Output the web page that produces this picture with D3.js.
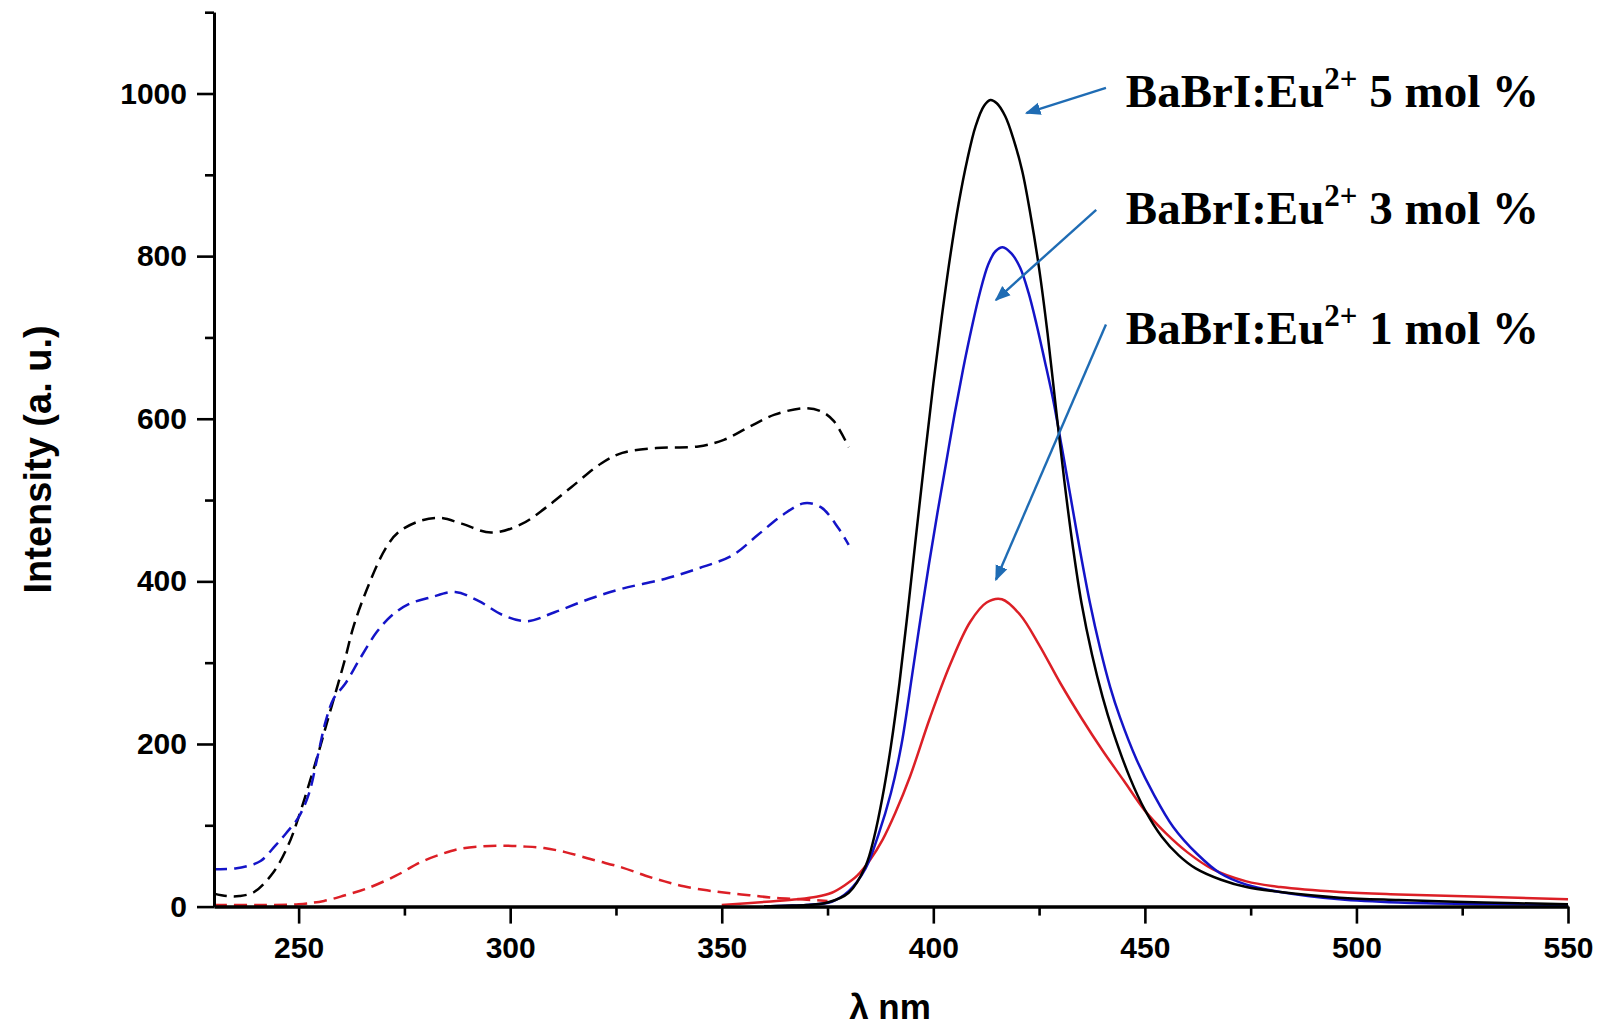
<!DOCTYPE html>
<html>
<head>
<meta charset="utf-8">
<script src="https://cdn.jsdelivr.net/npm/d3@7"></script>
<style>
  html, body { margin: 0; padding: 0; background: #fff; }
  svg { display: block; }
</style>
</head>
<body>
<svg id="chart" width="1599" height="1027"></svg>
<script>
// ---------- DATA ----------
const wavelengthDomain = [230, 550];
const intensityDomain = [0, 1100];
const xMajorTicks = [250, 300, 350, 400, 450, 500, 550];
const xMinorTicks = [275, 325, 375, 425, 475, 525];
const yMajorTicks = [0, 200, 400, 600, 800, 1000];
const yMinorTicks = [100, 300, 500, 700, 900, 1100];
const xAxisTitle = "λ nm";
const yAxisTitle = "Intensity (a. u.)";

// excitation spectra (dashed)
const exc5 = [[230,16],[233,13],[236,13],[239.5,18],[244,42],[247.5,75],[250,110],[253,160],[255,195],[257,232],[259,268],[261,305],[263,345],[266.5,395],[270.5,440],[273.5,460],[278.5,474],[283.5,478],[288.5,471],[295.5,460],[302.5,470],[308.5,491],[314.5,516],[321.5,545],[326.5,558],[334.5,564],[344.5,566],[350.5,574],[356.5,590],[362.5,605],[369.5,613],[373.5,609],[376.5,597],[380,565]];
const exc3 = [[230,46],[235,47],[238,50],[241,56],[244.5,75],[247,90],[250,110],[252.5,140],[254.5,185],[256.5,230],[258.3,256],[261,274],[264.5,305],[268.5,338],[272,358],[276,372],[281,380],[287,387],[292.5,376],[298.5,358],[304,351],[310.5,362],[318.5,378],[326.5,391],[336.5,403],[344.5,416],[352.5,432],[358.5,457],[364.5,482],[369.5,496],[373.5,491],[377.5,466],[380,445]];
const exc1 = [[230,2],[240,2],[250,3],[256,7],[261,14],[266,22],[273,38],[279,55],[284,65],[288,71],[293,74],[298,75],[303,74],[308,72],[313,67],[320,57],[326.5,48],[332,38],[336.5,31],[341,25],[346.5,20],[351,17],[356.5,14],[362,11],[368.5,9],[375,7]];

// emission spectra (solid)
const em5 = [[360,0],[365,1],[370,2],[375,5],[380,17],[384,50],[386,85],[388,135],[390,198],[392,275],[394,365],[396,460],[398,553],[400,643],[402,725],[404,800],[406,865],[408,918],[410,960],[412,985],[413.5,992],[415,988],[417,972],[419,943],[421,905],[423,850],[425,785],[427,705],[429,612],[431,522],[433,442],[435,374],[437.5,310],[440,258],[442.5,215],[446.5,158],[450,119],[454,86],[458,63],[462,47],[468,33],[474,24],[482,18],[496,11],[510,8],[530,5],[550,3]];
const em3 = [[360,0],[365,1],[370,2],[376,6],[380,19],[384,47],[387,88],[390,140],[392.5,200],[395,285],[397,355],[399,422],[401,485],[403,545],[405,605],[407,660],[409,710],[411,755],[413,790],[414.7,806],[416.4,811],[418.5,803],[420.5,786],[422.5,755],[424.4,716],[426.3,672],[428.3,624],[430.3,567],[432.3,508],[434.6,440],[437,374],[439.4,318],[441.8,270],[444.1,233],[448.1,180],[452,139],[456.7,98],[462.3,65],[467.8,41],[474,27],[482,18],[496,9],[510,5],[530,3],[550,2]];
const em1 = [[350,2],[360.6,6],[368,9],[372.4,12],[376,17],[379,26],[382,38],[385,57],[388,82],[391,115],[394.5,160],[399.2,232],[404,298],[408.7,350],[412.6,374],[416.2,378],[420.5,359],[425,322],[430,275],[435,232],[440,192],[445,155],[450,118],[455,90],[460,67],[466,46],[474,31],[482,24],[496,18],[510,15],[530,12],[550,9]];

const seriesNames = ["BaBrI:Eu", "BaBrI:Eu", "BaBrI:Eu"];
const seriesSup = ["2+", "2+", "2+"];
const seriesRest = [" 5 mol %", " 3 mol %", " 1 mol %"];
const seriesColors = ["#000000", "#1414c8", "#dc1f26"];
// annotation anchors in data units: label [x, y], arrow start, arrow head
const labelAnchors = [[445.5, 984], [445.5, 840], [445.5, 692]];
const arrowStarts = [[440.8, 1007], [438.5, 857], [440.8, 716]];
const arrowHeads = [[422.0, 976], [414.8, 746], [414.8, 402]];

// ---------- LAYOUT ----------
const svg = d3.select("#chart");
const mLeft = 214, mRight = 1568, mTop = 12.2, mBottom = 906.6;
const x = d3.scaleLinear().domain(wavelengthDomain).range([mLeft, mRight]);
const y = d3.scaleLinear().domain(intensityDomain).range([mBottom, mTop]);

const line = d3.line().x(d => x(d[0])).y(d => y(d[1])).curve(d3.curveCatmullRom.alpha(0.5));

const plot = svg.append("g");
const excSets = [exc5, exc3, exc1];
const emSets = [em5, em3, em1];

excSets.forEach((s, i) => {
  plot.append("path").datum(s).attr("d", line)
    .attr("fill", "none").attr("stroke", seriesColors[i])
    .attr("stroke-width", 2.5).attr("stroke-dasharray", "13,7");
});
[2, 1, 0].forEach(i => {
  plot.append("path").datum(emSets[i]).attr("d", line)
    .attr("fill", "none").attr("stroke", seriesColors[i])
    .attr("stroke-width", 2.5);
});

// ---------- AXES ----------
const tickFont = "bold 30px 'Liberation Sans', Arial, sans-serif";
const fmt = d3.format("d");

const yAxis = svg.append("g").attr("transform", `translate(${mLeft},0)`)
  .call(d3.axisLeft(y).tickValues(yMajorTicks).tickFormat(fmt).tickSize(17).tickPadding(10).tickSizeOuter(0));
const yMinor = svg.append("g").attr("transform", `translate(${mLeft},0)`)
  .call(d3.axisLeft(y).tickValues(yMinorTicks).tickSize(9).tickFormat("").tickSizeOuter(0));
const xAxis = svg.append("g").attr("transform", `translate(0,${mBottom})`)
  .call(d3.axisBottom(x).tickValues(xMajorTicks).tickFormat(fmt).tickSize(17).tickPadding(13).tickSizeOuter(0));
const xMinor = svg.append("g").attr("transform", `translate(0,${mBottom})`)
  .call(d3.axisBottom(x).tickValues(xMinorTicks).tickSize(9).tickFormat("").tickSizeOuter(0));

[yAxis, yMinor, xAxis, xMinor].forEach(g => {
  g.select(".domain").attr("stroke", "#000").attr("stroke-width", 3);
  g.selectAll(".tick line").attr("stroke", "#000").attr("stroke-width", 2.6);
  g.selectAll(".tick text").style("font", tickFont).attr("fill", "#000");
});

// axis titles
svg.append("text")
  .attr("transform", `translate(51,${(mTop + mBottom) / 2}) rotate(-90)`)
  .attr("text-anchor", "middle")
  .style("font", "bold 38px 'Liberation Sans', Arial, sans-serif")
  .text(yAxisTitle);

svg.append("text")
  .attr("x", (mLeft + mRight) / 2 - 1).attr("y", 1019)
  .attr("text-anchor", "middle")
  .style("font", "bold 35px 'Liberation Sans', Arial, sans-serif")
  .text(xAxisTitle);

// ---------- ANNOTATIONS ----------
const arrowColor = "#1f6cb4";
svg.append("defs").append("marker")
  .attr("id", "ah").attr("viewBox", "0 0 10 10")
  .attr("refX", 9).attr("refY", 5)
  .attr("markerWidth", 6.5).attr("markerHeight", 6.5)
  .attr("markerUnits", "strokeWidth")
  .attr("orient", "auto")
  .append("path").attr("d", "M0,1 L10,5 L0,9 Z").attr("fill", arrowColor);

arrowStarts.forEach((s, i) => {
  svg.append("line")
    .attr("x1", x(s[0])).attr("y1", y(s[1]))
    .attr("x2", x(arrowHeads[i][0])).attr("y2", y(arrowHeads[i][1]))
    .attr("stroke", arrowColor).attr("stroke-width", 2.4)
    .attr("marker-end", "url(#ah)");
});

labelAnchors.forEach((a, i) => {
  const t = svg.append("text")
    .attr("x", x(a[0])).attr("y", y(a[1]))
    .style("font", "bold 47px 'Liberation Serif', 'Times New Roman', serif")
    .attr("fill", "#000");
  t.append("tspan").text(seriesNames[i]);
  t.append("tspan").attr("dy", -18).style("font-size", "31px").text(seriesSup[i]);
  t.append("tspan").attr("dy", 18).text(seriesRest[i]);
});
</script>
</body>
</html>
